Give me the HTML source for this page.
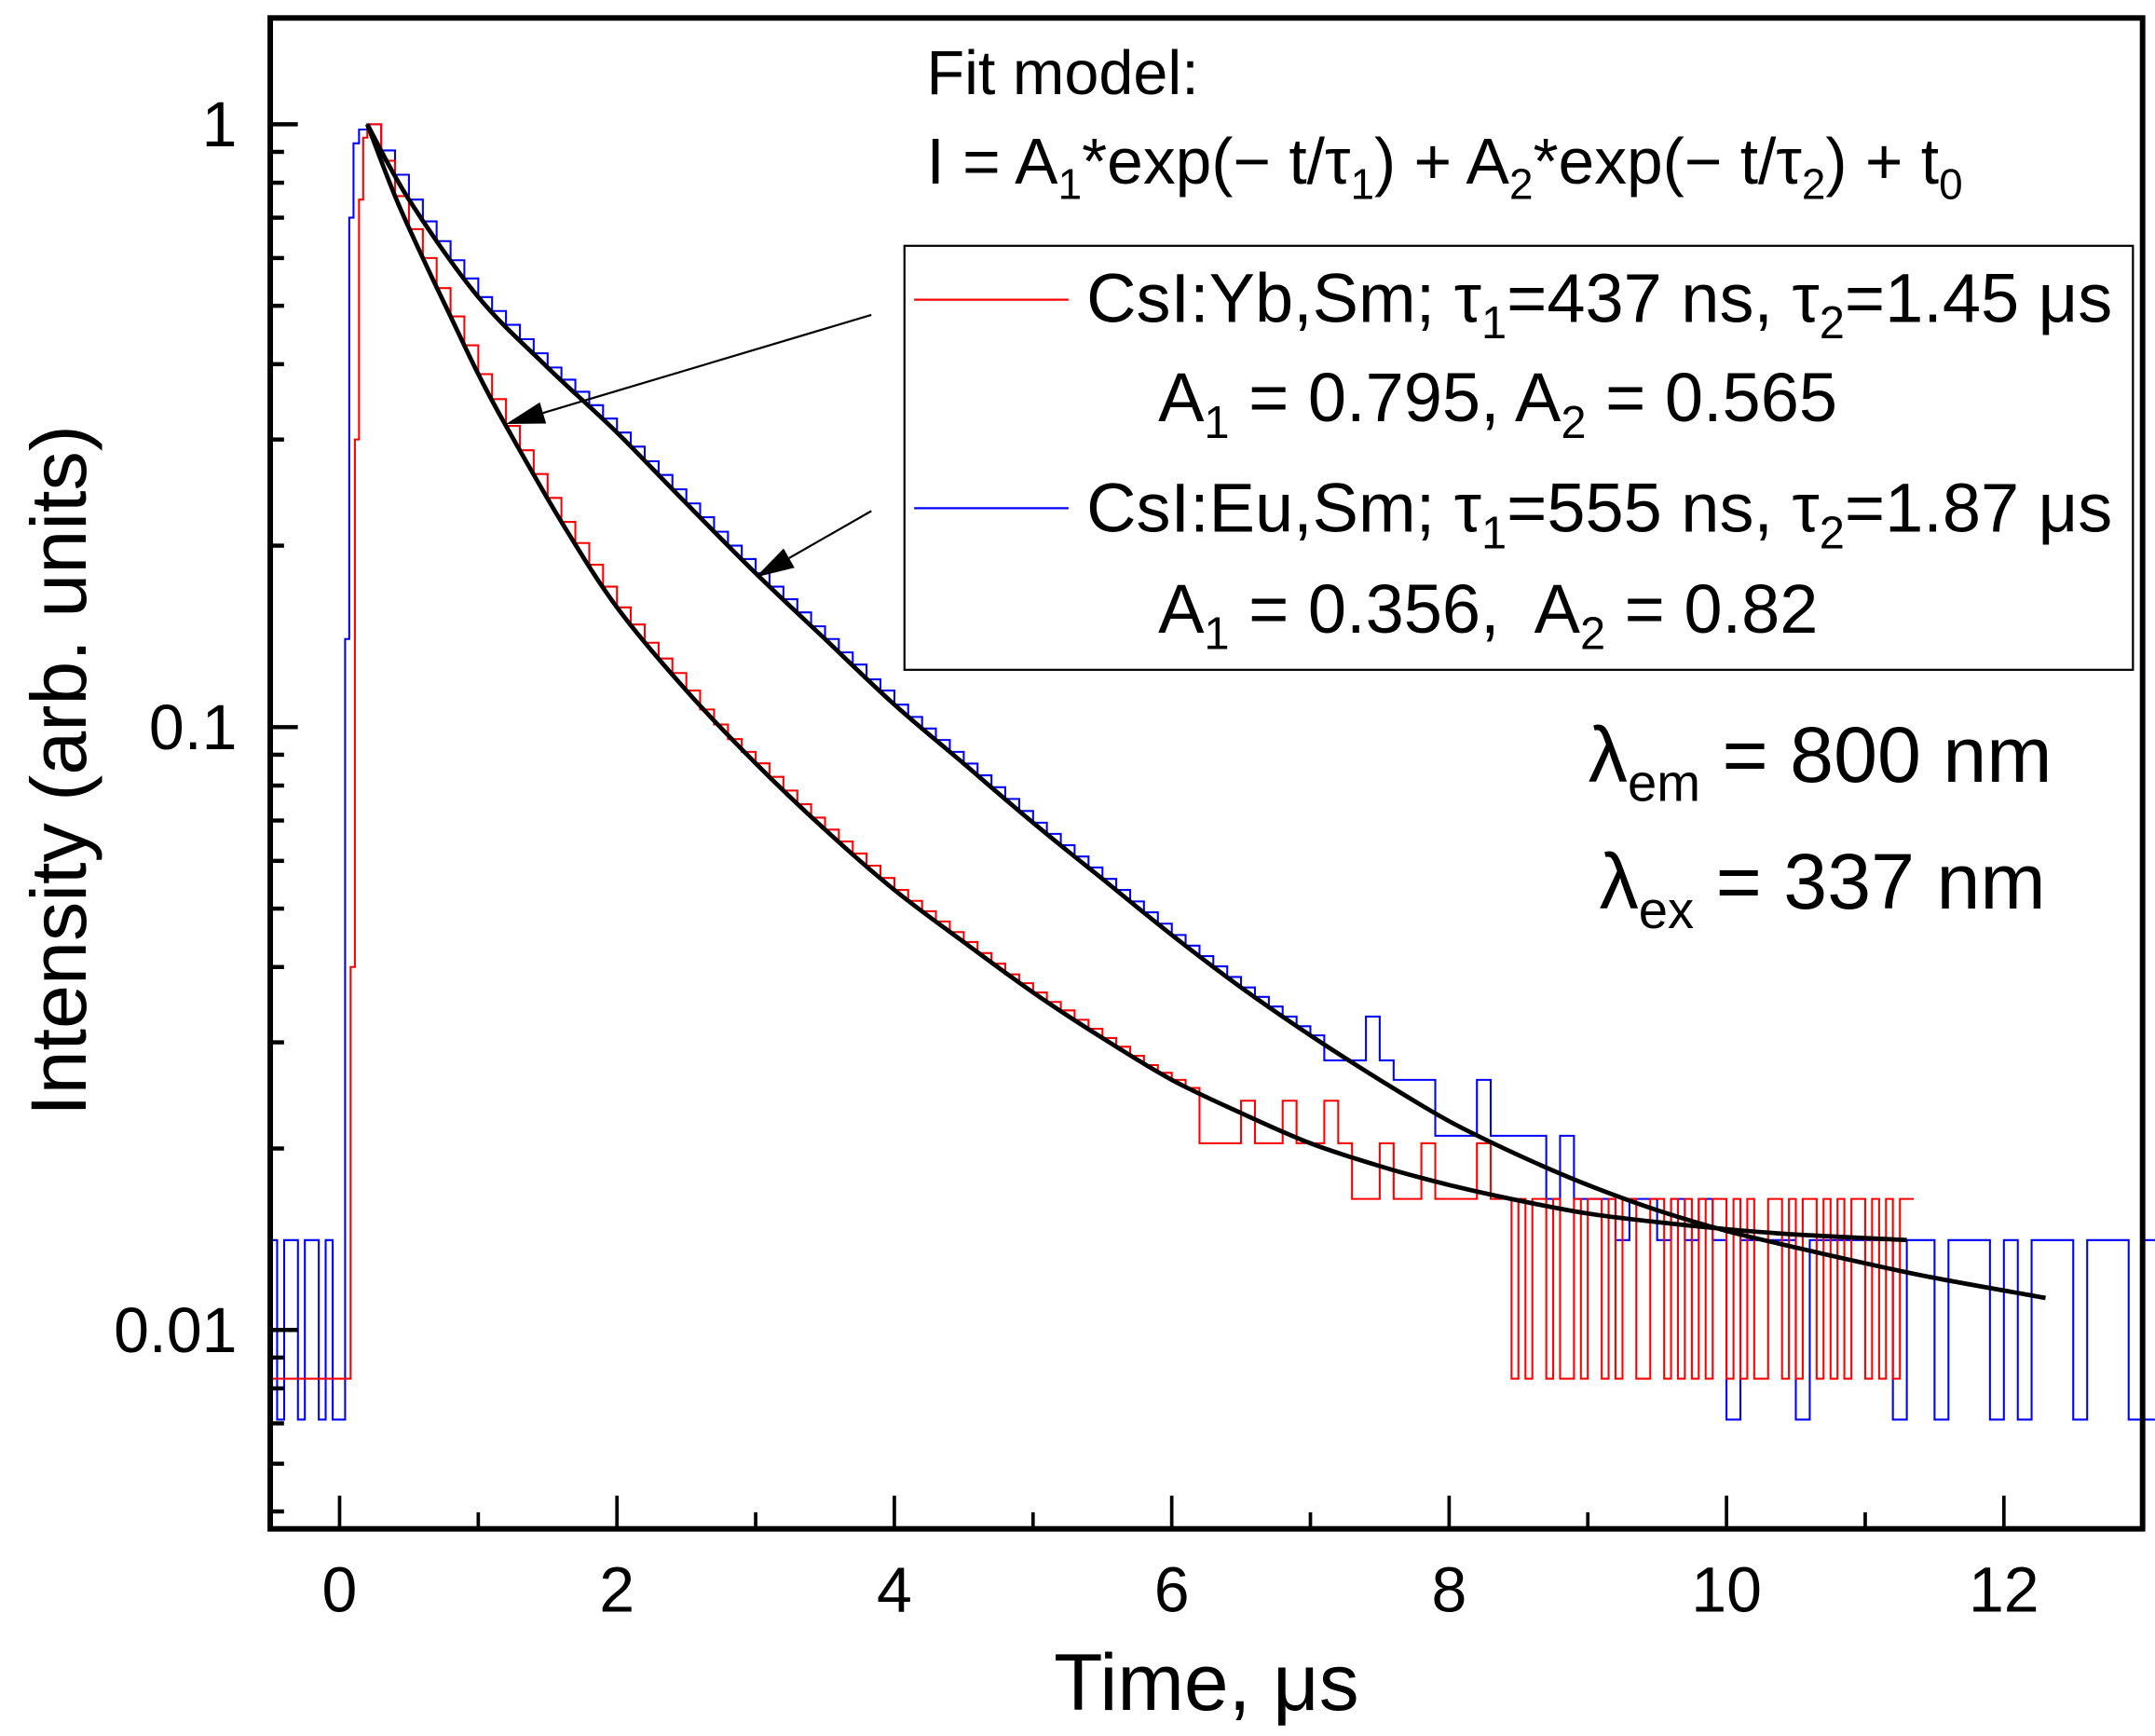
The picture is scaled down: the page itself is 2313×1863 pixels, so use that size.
<!DOCTYPE html>
<html><head><meta charset="utf-8">
<style>
html,body{margin:0;padding:0;background:#fff;}
svg{display:block;}
text{font-family:"Liberation Sans",Arial,sans-serif;fill:#000;}
</style></head>
<body>
<svg id="chart" width="2313" height="1863" viewBox="0 0 1563 1257" preserveAspectRatio="none" xmlns="http://www.w3.org/2000/svg">
<rect x="0" y="0" width="1563" height="1257" fill="#fff"/>
<g id="marks"></g>
<rect x="196" y="13" width="1358" height="1094" fill="none" stroke="#000" stroke-width="4"/>
<g id="ticks"></g>
<text transform="translate(62,558) rotate(-90)" font-size="57" text-anchor="middle">Intensity (arb. units)</text>
<text x="875" y="1238" font-size="58" text-anchor="middle">Time, μs</text>
<g>
<text x="672" y="68" font-size="45">Fit model:</text>
<text x="672" y="133" font-size="47">I = A<tspan font-size="31" dy="11">1</tspan><tspan dy="-11">*exp(− t/τ</tspan><tspan font-size="31" dy="11">1</tspan><tspan dy="-11">) + A</tspan><tspan font-size="31" dy="11">2</tspan><tspan dy="-11">*exp(− t/τ</tspan><tspan font-size="31" dy="11">2</tspan><tspan dy="-11">) + t</tspan><tspan font-size="31" dy="11">0</tspan></text>
</g>
<g>
<rect x="656" y="178" width="891" height="307" fill="#fff" stroke="#000" stroke-width="1.5"/>
<line x1="663" y1="217" x2="775" y2="217" stroke="#f00" stroke-width="1.5"/>
<text x="788" y="233" font-size="50">CsI:Yb,Sm; τ<tspan font-size="33" dy="12">1</tspan><tspan dy="-12">=437 ns, τ</tspan><tspan font-size="33" dy="12">2</tspan><tspan dy="-12">=1.45 μs</tspan></text>
<text x="840" y="305" font-size="50">A<tspan font-size="33" dy="12">1</tspan><tspan dy="-12"> = 0.795, A</tspan><tspan font-size="33" dy="12">2</tspan><tspan dy="-12"> = 0.565</tspan></text>
<line x1="663" y1="368" x2="775" y2="368" stroke="#00f" stroke-width="1.5"/>
<text x="788" y="385" font-size="50">CsI:Eu,Sm; τ<tspan font-size="33" dy="12">1</tspan><tspan dy="-12">=555 ns, τ</tspan><tspan font-size="33" dy="12">2</tspan><tspan dy="-12">=1.87 μs</tspan></text>
<text x="840" y="458" font-size="50" xml:space="preserve">A<tspan font-size="33" dy="12">1</tspan><tspan dy="-12"> = 0.356,  A</tspan><tspan font-size="33" dy="12">2</tspan><tspan dy="-12"> = 0.82</tspan></text>
</g>
<text x="1152" y="566" font-size="57">λ<tspan font-size="38" dy="14">em</tspan><tspan dy="-14"> = 800 nm</tspan></text>
<text x="1160" y="658" font-size="57">λ<tspan font-size="38" dy="14">ex</tspan><tspan dy="-14"> = 337 nm</tspan></text>
<g id="arrows"></g>
</svg>
<script>
const NS="http://www.w3.org/2000/svg";
const X0=196,X1=1554,XMIN=-0.5,XMAX=13.0;
const Y_ONE=90,DEC=436.5;
function sx(t){return X0+(t-XMIN)/(XMAX-XMIN)*(X1-X0);}
function sy(v){return Y_ONE-Math.log10(v)*DEC;}

const xTicks=[0,2,4,6,8,10,12];
const xTickLabels=["0","2","4","6","8","10","12"];
const yTicks=[1,0.1,0.01];
const yTickLabels=["1","0.1","0.01"];

const fitYbT=[0.2,0.4,0.6,0.8,1.0,1.2,1.6,2.0,2.5,3.0,3.5,4.0,4.5,5.0,5.5,6.0,6.5,7.0,7.5,8.0,8.5,9.0,9.5,10.0,10.5,11.3];
const fitYbV=[1,0.76,0.6,0.48,0.385,0.316,0.219,0.158,0.115,0.0871,0.0676,0.0537,0.044,0.0363,0.0305,0.026,0.0229,0.0204,0.0187,0.0174,0.0164,0.0156,0.0151,0.0147,0.0144,0.0141];
const fitEuT=[0.2,0.5,1.0,1.5,2.0,2.5,3.0,3.5,4.0,4.5,5.0,5.5,6.0,6.5,7.0,7.5,8.0,8.5,9.0,9.5,10.0,10.5,11.0,11.5,12.3];
const fitEuV=[1,0.75,0.517,0.395,0.308,0.235,0.18,0.14,0.109,0.087,0.0694,0.056,0.0452,0.037,0.0308,0.026,0.0222,0.0195,0.0174,0.0158,0.0146,0.0137,0.0129,0.0122,0.0113];

const ybPreT=[-0.5,0.08,0.11,0.14,0.17];
const ybPreV=[0.0083,0.04,0.3,0.75,0.95];
const ybT0=0.2, ybDT=0.1;
const ybV=[1,0.87,0.76,0.67,0.6,0.535,0.48,0.43,0.385,0.35,0.316,0.288,0.263,0.24,0.219,0.202,0.186,0.171,0.158,0.148,0.138,0.13,0.123,0.115,0.107,0.101,0.0955,0.091,0.0871,0.0827,0.0785,0.0745,0.0708,0.0676,0.0646,0.0617,0.0589,0.0562,0.0537,0.0515,0.0495,0.0476,0.0457,0.044,0.0422,0.0405,0.0389,0.0376,0.0363,0.035,0.0339,0.0327,0.0316,0.0305,0.0295,0.0285,0.0275,0.0267,0.026,0.0252,0.0204,0.0204,0.0204,0.024,0.0204,0.0204,0.024,0.0204,0.0204,0.024,0.0204,0.0165,0.0165,0.0204,0.0165,0.0165,0.0204,0.0165,0.0165,0.0165,0.0204,0.0165];
const ybNoiseT0=8.4, ybNoiseDT=0.05;
const ybNoiseV=[0.0165,0.0083,0.0165,0.0083,0.0165,0.0165,0.0083,0.0165,0.0083,0.0083,0.0165,0.0083,0.0165,0.0165,0.0083,0.0165,0.0083,0.0165,0.0165,0.0083,0.0083,0.0165,0.0165,0.0083,0.0165,0.0083,0.0165,0.0083,0.0165,0.0083,0.0165,0.0165,0.0083,0.0165,0.0083,0.0165,0.0083,0.0083,0.0165,0.0165,0.0083,0.0165,0.0083,0.0165,0.0165,0.0083,0.0165,0.0083,0.0165,0.0083,0.0165,0.0165,0.0083,0.0165,0.0083,0.0165,0.0083,0.0165,0.0165];

const euPreT=[-0.5,-0.45,-0.4,-0.3,-0.25,-0.15,-0.1,-0.05,0.0,0.04,0.07,0.1,0.14];
const euPreV=[0.0141,0.0071,0.0141,0.0071,0.0141,0.0071,0.0141,0.0071,0.0071,0.14,0.7,0.93,0.98];
const euT0=0.2, euDT=0.1;
const euV=[1,0.905,0.825,0.75,0.69,0.64,0.595,0.555,0.517,0.49,0.465,0.44,0.417,0.395,0.377,0.36,0.342,0.325,0.308,0.292,0.276,0.262,0.248,0.235,0.223,0.211,0.2,0.19,0.18,0.171,0.163,0.155,0.147,0.14,0.133,0.127,0.12,0.115,0.109,0.104,0.0995,0.0952,0.091,0.087,0.0832,0.0795,0.076,0.0726,0.0694,0.0665,0.0637,0.061,0.0585,0.056,0.0537,0.0514,0.0493,0.0472,0.0452,0.0434,0.0417,0.0401,0.0385,0.037,0.0357,0.0344,0.0331,0.0319,0.0308,0.028,0.028,0.028,0.0331,0.028,0.026,0.026,0.026,0.021,0.021,0.021,0.026,0.021,0.021,0.021,0.021,0.0165,0.021,0.0165,0.0165,0.0165,0.0141,0.0165,0.0165,0.0141,0.0165,0.0141,0.0165];
const euNoiseT0=9.9, euNoiseDT=0.1;
const euNoiseV=[0.0141,0.0071,0.0141,0.0141,0.0141,0.0141,0.0071,0.0141,0.0141,0.0141,0.0141,0.0141,0.0141,0.0071,0.0141,0.0141,0.0071,0.0141,0.0141,0.0141,0.0071,0.0141,0.0071,0.0141,0.0141,0.0141,0.0071,0.0141,0.0141,0.0141,0.0071,0.0141,0.0141,0.0071];

const marks=document.getElementById('marks');
const ticks=document.getElementById('ticks');
function el(tag,attrs,parent){const e=document.createElementNS(NS,tag);for(const k in attrs)e.setAttribute(k,attrs[k]);parent.appendChild(e);return e;}

function stepPath(preT,preV,t0,dt,vs,n0,ndt,nv){
  let pts=[];
  for(let i=0;i<preT.length;i++)pts.push([preT[i],preV[i]]);
  for(let i=0;i<vs.length;i++)pts.push([t0+i*dt,vs[i]]);
  for(let i=0;i<nv.length;i++)pts.push([n0+i*ndt,nv[i]]);
  let d="M"+sx(pts[0][0]).toFixed(1)+","+sy(pts[0][1]).toFixed(1);
  for(let i=1;i<pts.length;i++){
    d+=" H"+sx(pts[i][0]).toFixed(1)+" V"+sy(pts[i][1]).toFixed(1);
  }
  d+=" H"+Math.min(X1,sx(pts[pts.length-1][0]+ndt)).toFixed(1);
  return d;
}
function smoothPath(ts,vs){
  const p=ts.map((t,i)=>[sx(t),sy(vs[i])]);
  let d="M"+p[0][0].toFixed(1)+","+p[0][1].toFixed(1);
  for(let i=0;i<p.length-1;i++){
    const p0=p[Math.max(0,i-1)],p1=p[i],p2=p[i+1],p3=p[Math.min(p.length-1,i+2)];
    const c1=[p1[0]+(p2[0]-p0[0])/6,p1[1]+(p2[1]-p0[1])/6];
    const c2=[p2[0]-(p3[0]-p1[0])/6,p2[1]-(p3[1]-p1[1])/6];
    d+=` C${c1[0].toFixed(1)},${c1[1].toFixed(1)} ${c2[0].toFixed(1)},${c2[1].toFixed(1)} ${p2[0].toFixed(1)},${p2[1].toFixed(1)}`;
  }
  return d;
}

const euLine=el('path',{d:stepPath(euPreT,euPreV,euT0,euDT,euV,euNoiseT0,euNoiseDT,euNoiseV),fill:'none',stroke:'#00f','stroke-width':1.4},marks);


const ybLine=el('path',{d:stepPath(ybPreT,ybPreV,ybT0,ybDT,ybV,ybNoiseT0,ybNoiseDT,ybNoiseV),fill:'none',stroke:'#f00','stroke-width':1.4},marks);


const fitYb=el('path',{d:smoothPath(fitYbT,fitYbV),fill:'none',stroke:'#000','stroke-width':3.2,'stroke-linejoin':'round'},marks);


const fitEu=el('path',{d:smoothPath(fitEuT,fitEuV),fill:'none',stroke:'#000','stroke-width':3.2,'stroke-linejoin':'round'},marks);



for(let t=0;t<=12;t++){
  const major=t%2===0;
  const tk=el('line',{x1:sx(t),x2:sx(t),y1:1107,y2:1107-(major?24:12),stroke:'#000','stroke-width':2.5},ticks);
  
  
}
xTicks.forEach((t,i)=>{
  const tx=el('text',{x:sx(t),y:1167,'font-size':46,'text-anchor':'middle'},ticks);
  tx.textContent=xTickLabels[i];
  
  
});
[0.01,0.1].forEach(dec=>{for(let m=1;m<=9;m++){
  const v=dec*m;const y=sy(v);
  if(y<13||y>1107)continue;
  const tk=el('line',{x1:196,x2:196+(m===1?20:10),y1:y,y2:y,stroke:'#000','stroke-width':3},ticks);
  
  
}});
[0.001].forEach(dec=>{for(let m=4;m<=9;m++){
  const y=sy(dec*m);if(y>1107)continue;
  const tk=el('line',{x1:196,x2:206,y1:y,y2:y,stroke:'#000','stroke-width':3},ticks);
  
  
}});
const tk1=el('line',{x1:196,x2:216,y1:sy(1),y2:sy(1),stroke:'#000','stroke-width':3},ticks);


yTicks.forEach((v,i)=>{
  const tx=el('text',{x:172,y:sy(v)+16,'font-size':46,'text-anchor':'end'},ticks);
  tx.textContent=yTickLabels[i];
  
  
});

const arrows=document.getElementById('arrows');
function arrow(x1,y1,x2,y2,name){
  const g=el('g',{},arrows);
  
  
  const a=Math.atan2(y2-y1,x2-x1),L=28,W=8;
  const bx=x2-L*Math.cos(a),by=y2-L*Math.sin(a);
  el('line',{x1:x1,y1:y1,x2:bx,y2:by,stroke:'#000','stroke-width':1.5},g);
  el('polygon',{points:`${x2},${y2} ${bx-W*Math.sin(a)},${by+W*Math.cos(a)} ${bx+W*Math.sin(a)},${by-W*Math.cos(a)}`,fill:'#000'},g);
}
arrow(632,228,367,307,'arrow-to-yb-fit');
arrow(632,370,548,418,'arrow-to-eu-fit');
</script>
</body></html>
